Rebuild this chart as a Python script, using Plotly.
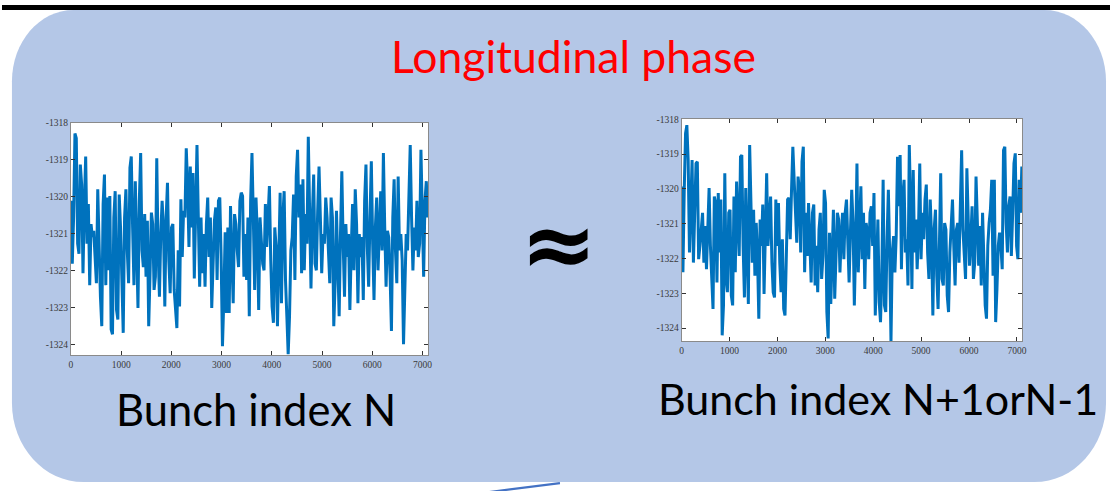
import numpy as np
import plotly.graph_objects as go

# ---------------- data ----------------
TITLE = "Longitudinal phase"
LABEL_LEFT = "Bunch index N"
LABEL_RIGHT = "Bunch index N+1orN-1"
APPROX = "≈"

X_TICKS = [0, 1000, 2000, 3000, 4000, 5000, 6000, 7000]
X_TICK_TEXT = ["0", "1000", "2000", "3000", "4000", "5000", "6000", "7000"]
Y_TICKS = [-1318, -1319, -1320, -1321, -1322, -1323, -1324]
Y_TICK_TEXT = ["-1318", "-1319", "-1320", "-1321", "-1322", "-1323", "-1324"]

TURN_MAX = 7130  # last turn index shown

PHASE_N = [
    -1320.11, -1321.81, -1320.56,
    -1318.29, -1318.42, -1321.27, -1321.54, -1319.13, -1319.67, -1322.07, -1320.20, -1318.91, -1321.27,
    -1320.20, -1322.39, -1320.74, -1321.09, -1320.92, -1321.63, -1322.34, -1319.80, -1321.63, -1322.70,
    -1323.50, -1320.20, -1319.40, -1322.39, -1320.02, -1321.99, -1319.98, -1323.59, -1323.72, -1320.56,
    -1319.85, -1323.06, -1323.32, -1319.94, -1320.83, -1322.34, -1323.68, -1320.56, -1319.80, -1321.45,
    -1322.34, -1319.22, -1318.91, -1320.83, -1322.39, -1319.58, -1321.45, -1323.01, -1320.11, -1318.82,
    -1321.45, -1321.90, -1320.47, -1322.16, -1320.65, -1323.50, -1322.07, -1320.43, -1320.74, -1322.52,
    -1322.16, -1318.96,
    -1321.45, -1322.70, -1321.01, -1320.11, -1320.83, -1322.97, -1320.56, -1319.62, -1321.72, -1322.61,
    -1320.83, -1320.74, -1322.52, -1323.23, -1323.55, -1321.45, -1322.97, -1320.07, -1321.63, -1320.38,
    -1320.56, -1318.69, -1319.67, -1321.36, -1319.18, -1320.83, -1319.36, -1322.21, -1319.85, -1318.60,
    -1320.56, -1322.43, -1320.56, -1322.07, -1321.01, -1322.43, -1320.74, -1320.02, -1321.63, -1320.56,
    -1323.01, -1321.63, -1320.65, -1320.29, -1322.25, -1320.11, -1320.02, -1321.63, -1324.04, -1322.79,
    -1320.96, -1323.14, -1320.83, -1323.14, -1320.25, -1321.63, -1322.88, -1320.47, -1320.74, -1321.45,
    -1321.90, -1320.11, -1319.89, -1319.98, -1322.16, -1321.01, -1322.25, -1320.56, -1323.23,
    -1320.11, -1318.82, -1320.56, -1322.52, -1320.02, -1321.01, -1323.06, -1320.56, -1321.20, -1321.81,
    -1321.99, -1320.20, -1321.36, -1320.56, -1319.71, -1321.72, -1322.97, -1323.41, -1320.83, -1321.36,
    -1323.50, -1321.63, -1319.89, -1322.88, -1320.56, -1319.85, -1322.25, -1323.23, -1324.26, -1323.23,
    -1321.45, -1321.09, -1319.94, -1322.25, -1319.45, -1318.73, -1320.56, -1319.67, -1322.07, -1319.53,
    -1321.99, -1320.47, -1321.27, -1318.38, -1320.92, -1322.48, -1320.56, -1319.40, -1321.81, -1321.99,
    -1320.38, -1319.18, -1320.56, -1322.07, -1321.01, -1321.27, -1320.02, -1320.56, -1321.45, -1322.34,
    -1320.02, -1320.56, -1323.50, -1322.34, -1320.38, -1321.90, -1323.23, -1321.01, -1319.31,
    -1321.27, -1322.70, -1320.74, -1321.63, -1321.01, -1323.06, -1321.45, -1320.20, -1321.99, -1319.80,
    -1320.74, -1322.88, -1321.01, -1321.63, -1321.09, -1322.79, -1320.11, -1319.13, -1321.36, -1322.43,
    -1320.56, -1319.04, -1321.27, -1322.79, -1320.83, -1320.02, -1321.99, -1320.56, -1319.85, -1321.45,
    -1318.82, -1320.83, -1322.43, -1320.92, -1321.10, -1322.16, -1323.63, -1320.56, -1319.53, -1321.45,
    -1322.34, -1319.45, -1321.45, -1321.01, -1321.72, -1323.99, -1322.34, -1321.01, -1321.45, -1320.11,
    -1318.60, -1320.56, -1321.99, -1320.83, -1321.45, -1320.11, -1321.63, -1321.27, -1318.73, -1320.47,
    -1322.16, -1320.11, -1319.58, -1320.56, -1320.11,
]

PHASE_N_NEIGHBOUR = [
    -1319.93, -1322.40, -1320.03, -1318.41, -1318.17, -1319.17, -1321.83, -1320.41, -1319.17, -1322.12,
    -1320.69, -1319.27, -1319.22, -1322.02, -1321.64, -1320.98, -1320.69, -1322.12, -1321.07, -1322.31,
    -1320.69, -1319.98, -1321.64, -1322.88, -1323.45, -1320.22, -1320.41, -1322.69, -1320.12, -1321.83,
    -1320.31, -1324.21, -1323.35, -1319.55, -1322.59, -1322.97, -1320.69, -1320.60, -1323.07, -1323.35,
    -1320.22, -1322.40, -1319.79, -1320.88, -1321.93, -1319.08, -1319.03, -1321.64, -1323.12, -1319.98,
    -1322.12, -1323.31, -1318.74, -1320.69, -1322.12, -1320.60, -1322.50, -1320.98, -1321.93, -1323.73,
    -1320.88, -1321.64, -1320.45, -1323.02, -1320.69, -1319.55, -1321.64, -1320.88, -1320.22, -1322.12,
    -1322.97, -1323.12, -1320.31, -1321.64, -1320.41, -1322.12, -1322.97, -1321.45, -1323.45, -1323.64,
    -1321.93, -1320.31, -1320.26, -1321.45, -1320.03, -1318.79, -1319.74, -1320.98, -1321.55, -1319.65,
    -1320.03, -1321.83, -1319.22, -1318.79, -1322.40, -1320.69, -1321.93, -1320.41, -1321.64, -1322.69,
    -1320.69, -1320.45, -1322.78, -1321.64, -1322.97, -1321.17, -1320.69, -1322.59, -1321.93, -1320.03,
    -1320.41, -1323.54, -1324.30, -1321.26, -1323.31, -1321.64, -1320.60, -1323.16, -1322.12, -1320.69,
    -1320.88, -1322.40, -1321.36, -1320.69, -1322.02, -1320.69, -1320.31, -1321.83, -1322.69, -1321.26,
    -1320.03,
    -1320.98, -1323.35, -1321.64, -1319.27, -1322.40, -1320.69, -1319.93, -1322.02, -1320.69, -1322.88,
    -1320.98, -1321.26, -1322.02, -1320.69, -1320.50, -1321.64, -1320.12, -1323.64, -1321.83, -1320.88,
    -1323.26, -1323.83, -1322.40, -1319.74, -1323.35, -1323.54, -1321.45, -1320.03, -1321.83, -1324.40,
    -1321.83, -1321.36, -1322.40, -1321.36, -1319.08, -1320.50, -1319.03, -1322.31, -1320.22, -1319.74,
    -1321.83, -1321.45, -1322.78, -1318.74, -1320.50, -1322.88, -1319.46, -1321.83, -1320.88, -1322.31,
    -1321.26, -1319.27, -1322.02, -1320.69, -1321.45, -1320.31, -1319.88, -1321.83, -1322.59, -1320.31,
    -1321.36, -1323.64, -1321.17, -1320.60, -1322.50, -1323.45, -1321.64, -1319.55, -1322.59, -1322.78,
    -1320.98, -1321.17, -1323.07, -1323.54, -1321.83, -1320.88, -1320.31, -1321.64, -1322.78, -1321.17,
    -1320.98, -1322.12, -1320.22, -1318.89, -1321.17, -1321.83, -1322.59, -1319.41, -1320.69, -1322.21,
    -1321.45, -1320.50, -1322.59, -1322.12, -1319.65, -1320.69, -1322.21, -1321.07, -1322.78, -1320.69,
    -1322.40, -1323.35, -1323.73, -1321.64, -1320.98, -1320.60, -1319.74, -1322.50, -1319.74, -1323.83,
    -1322.88, -1321.64, -1321.26, -1321.64, -1322.31, -1318.89, -1318.79, -1320.98, -1321.83, -1320.50,
    -1320.22, -1321.93, -1320.69, -1319.27, -1318.98, -1321.64, -1322.02, -1319.74, -1320.69, -1319.36,
    -1320.69,
]

# ---------------- layout helpers (pixel geometry) ----------------
W, H = 1114, 491


def fx(px):
    return px / W


def fy(py):
    return 1 - py / H


BG_BLUE = "#B4C7E7"
LINE_BLUE = "#0072BD"
FRAME = "#8a8a8a"
TICK_FONT = dict(family="Liberation Serif, Times New Roman, serif", size=9.5, color="#3a3a3a")
TEXT_FONT = "Lato, Carlito, Calibri, sans-serif"

# chart boxes (pixel)
LEFT_BOX = dict(x0=69.3, x1=428.3, y0=119.0, y1=354.0, ymin=-1324.29, ymax=-1318.0, xmax=7110)
RIGHT_BOX = dict(x0=683.3, x1=1025.7, y0=114.7, y1=339.7, ymin=-1324.38, ymax=-1317.98, xmax=7110)

x_n = np.linspace(0, TURN_MAX, len(PHASE_N))
x_nb = np.linspace(0, TURN_MAX, len(PHASE_N_NEIGHBOUR))

fig = go.Figure()
fig.add_trace(go.Scatter(x=x_n, y=PHASE_N, mode="lines", xaxis="x", yaxis="y",
                         line=dict(color=LINE_BLUE, width=3), hoverinfo="skip", showlegend=False))
fig.add_trace(go.Scatter(x=x_nb, y=PHASE_N_NEIGHBOUR, mode="lines", xaxis="x2", yaxis="y2",
                         line=dict(color=LINE_BLUE, width=3), hoverinfo="skip", showlegend=False))


def axis_pair(box):
    xa = dict(domain=[fx(box["x0"]), fx(box["x1"])], range=[0, box["xmax"]],
              tickvals=X_TICKS, ticktext=X_TICK_TEXT, ticks="inside", ticklen=4,
              tickcolor="#333", tickwidth=1, showline=True, linecolor=FRAME, linewidth=1,
              mirror="ticks", showgrid=False, zeroline=False, tickfont=TICK_FONT, fixedrange=True)
    ya = dict(domain=[fy(box["y1"]), fy(box["y0"])], range=[box["ymin"], box["ymax"]],
              tickvals=Y_TICKS, ticktext=Y_TICK_TEXT, ticks="inside", ticklen=4,
              tickcolor="#333", tickwidth=1, showline=True, linecolor=FRAME, linewidth=1,
              mirror="ticks", showgrid=False, zeroline=False, tickfont=TICK_FONT, fixedrange=True)
    return xa, ya


xa1, ya1 = axis_pair(LEFT_BOX)
xa2, ya2 = axis_pair(RIGHT_BOX)
ya1["anchor"] = "x"
xa1["anchor"] = "y"
xa2["anchor"] = "y2"
ya2["anchor"] = "x2"

# rounded panel path (elliptical corners)
K = 0.5523
L, R, T, B = 10, 1110, 5, 482
RXT, RYT, RXB, RYB = 62, 72, 72, 80


def P(px, py):
    return f"{fx(px):.5f},{fy(py):.5f}"


path = (
    f"M {P(L + RXT, T)} L {P(R - RXT, T)} "
    f"C {P(R - RXT + K * RXT, T)} {P(R, T + RYT - K * RYT)} {P(R, T + RYT)} "
    f"L {P(R, B - RYB)} "
    f"C {P(R, B - RYB + K * RYB)} {P(R - RXB + K * RXB, B)} {P(R - RXB, B)} "
    f"L {P(L + RXB, B)} "
    f"C {P(L + RXB - K * RXB, B)} {P(L, B - RYB + K * RYB)} {P(L, B - RYB)} "
    f"L {P(L, T + RYT)} "
    f"C {P(L, T + RYT - K * RYT)} {P(L + RXT - K * RXT, T)} {P(L + RXT, T)} Z"
)

shapes = [
    dict(type="path", xref="paper", yref="paper", path=path, fillcolor=BG_BLUE,
         line=dict(width=0), layer="below"),
    dict(type="rect", xref="paper", yref="paper", x0=0, x1=1, y0=fy(5), y1=1,
         fillcolor="black", line=dict(width=0), layer="below"),
    dict(type="rect", xref="paper", yref="paper", x0=fx(LEFT_BOX["x0"]), x1=fx(LEFT_BOX["x1"]),
         y0=fy(LEFT_BOX["y1"]), y1=fy(LEFT_BOX["y0"]), fillcolor="white", line=dict(width=0), layer="below"),
    dict(type="rect", xref="paper", yref="paper", x0=fx(RIGHT_BOX["x0"]), x1=fx(RIGHT_BOX["x1"]),
         y0=fy(RIGHT_BOX["y1"]), y1=fy(RIGHT_BOX["y0"]), fillcolor="white", line=dict(width=0), layer="below"),
    dict(type="line", xref="paper", yref="paper", x0=fx(490), y0=fy(492), x1=fx(561), y1=fy(483),
         line=dict(color="#4472C4", width=2.2), layer="below"),
]

annotations = [
    dict(text=TITLE, xref="paper", yref="paper", x=fx(575), y=fy(51), xanchor="center", yanchor="middle",
         showarrow=False, font=dict(family=TEXT_FONT, size=44.5, color="#FF0000")),
    dict(text=LABEL_LEFT, xref="paper", yref="paper", x=fx(255), y=fy(408), xanchor="center", yanchor="middle",
         showarrow=False, font=dict(family=TEXT_FONT, size=43.5, color="black")),
    dict(text=LABEL_RIGHT, xref="paper", yref="paper", x=fx(881), y=fy(398), xanchor="center", yanchor="middle",
         showarrow=False, font=dict(family=TEXT_FONT, size=43, color="black")),
    dict(text=f"<b>{APPROX}</b>", xref="paper", yref="paper", x=fx(560), y=fy(242), xanchor="center",
         yanchor="middle", showarrow=False, font=dict(family="DejaVu Sans, sans-serif", size=92, color="black")),
]

fig.update_layout(
    width=W, height=H, margin=dict(l=0, r=0, t=0, b=0),
    paper_bgcolor="white", plot_bgcolor="rgba(0,0,0,0)",
    xaxis=xa1, yaxis=ya1, xaxis2=xa2, yaxis2=ya2,
    shapes=shapes, annotations=annotations, showlegend=False,
)

fig.write_html("out.html")
